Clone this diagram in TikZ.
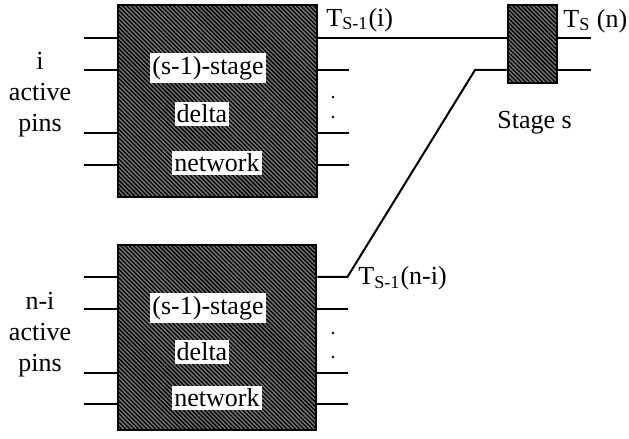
\documentclass[tikz,border=0pt]{standalone}
\usepackage{fontspec}
\setmainfont{Liberation Serif}
\usetikzlibrary{patterns.meta,fit,positioning}

\begin{document}
\begin{tikzpicture}[
  x=0.5pt, y=-0.5pt,
  font=\fontsize{13}{15.5}\selectfont,
  netbox/.style={draw,line width=1.4pt,inner sep=0pt,
                 preaction={fill=black!55},
                 pattern={Lines[angle=-45,distance=1.5pt,line width=.65pt]}},
  wire/.style={line width=1pt},
  boxtag/.style={fill=white,inner xsep=1pt,inner ysep=1.5pt},
  sidenote/.style={inner sep=0pt,align=center}
]
\useasboundingbox (0,0) rectangle (629,439);

% the two (s-1)-stage networks and the last stage
\node[netbox,fit={(118,5) (317,197)}] (upper) {};
\node[netbox,fit={(118,245) (316,430)}] (lower) {};
\node[netbox,fit={(508,5) (557,83)}] (stage) {};

\node[boxtag] (upstage) at (208,68) {(s-1)-stage};
\node[boxtag] (updelta) at (202,114) {delta};
\node[boxtag] (upnet) at (217,163) {network};
\node[boxtag] (lostage) at (208,308) {(s-1)-stage};
\node[boxtag] (lodelta) at (202,352) {delta};
\node[boxtag] (lonet) at (217,398) {network};

% pins
\foreach \y in {38,70,133,165}
  \draw[wire] (upper.west |- 0,\y) -- ++(-33,0);
\foreach \y in {70,133,165}
  \draw[wire] (upper.east |- 0,\y) -- ++(31,0);
\foreach \y in {277,309,373,404}
  \draw[wire] (lower.west |- 0,\y) -- ++(-33,0);
\foreach \y in {309,373,404}
  \draw[wire] (lower.east |- 0,\y) -- ++(31,0);
\foreach \y in {38,70}
  \draw[wire] (stage.east |- 0,\y) -- ++(33,0);
\foreach \y in {97,117,333,357}
  \fill (333,\y) circle (1.3);

% outputs into stage s
\coordinate (bend) at (475,70);
\draw[wire] (upper.east |- 0,38) -- (stage.west |- 0,38);
\draw[wire] (lower.east |- 0,277) -- ++(30,0) -- (bend) -- (stage.west |- bend);

% labels
\node[sidenote] (upin) at (40,95) {i\\active\\pins};
\node[sidenote] (lopin) at (40,335) {n-i\\active\\pins};
\node[anchor=base west,inner sep=0pt] (tup) at (326,26) {T\textsubscript{S-1}(i)};
\node[anchor=base west,inner sep=0pt] (tlo) at (358,285) {T\textsubscript{S-1}(n-i)};
\node[anchor=base west,inner sep=0pt] (tout) at (563,27) {T\textsubscript{S} (n)};
\node[anchor=base west,inner sep=0pt] (stagename) at (497,128) {Stage s};
\end{tikzpicture}
\end{document}
